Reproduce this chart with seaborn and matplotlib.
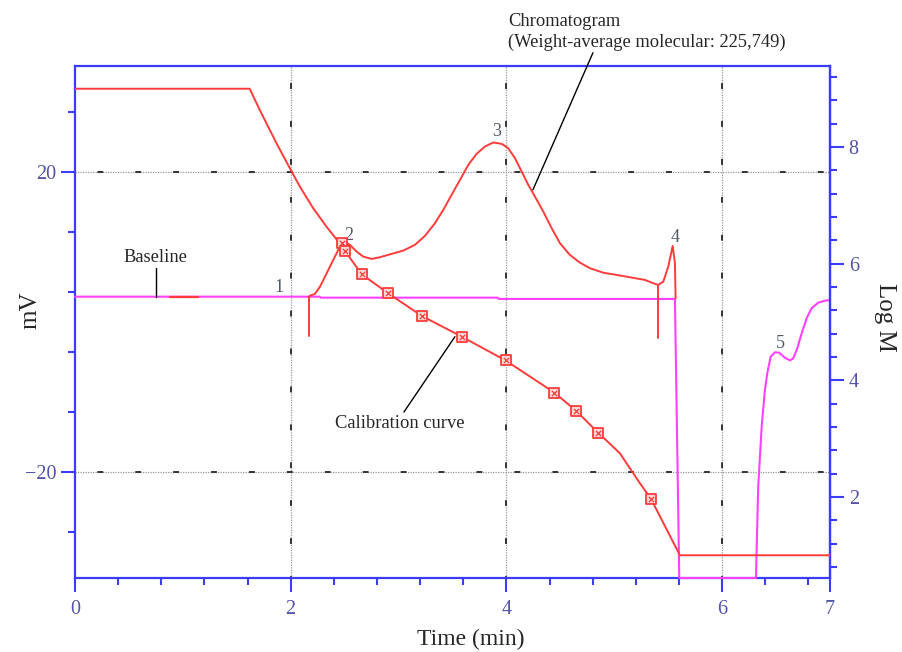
import numpy as np
import pandas as pd
import matplotlib
matplotlib.use("Agg")
import matplotlib.pyplot as plt
import seaborn as sns
from matplotlib.ticker import FixedLocator, MultipleLocator

# Chromatogram trace (mV, left axis)
chrom_t = [2.170, 2.179, 2.225, 2.272, 2.334, 2.395, 2.457, 2.503, 2.550, 2.612,
           2.673, 2.751, 2.828, 2.936, 3.044, 3.152, 3.245, 3.338, 3.415, 3.492,
           3.570, 3.647, 3.724, 3.801, 3.878, 3.956, 4.017, 4.079, 4.142, 4.203,
           4.265, 4.342, 4.420, 4.497, 4.589, 4.682, 4.775, 4.898, 5.022, 5.146,
           5.285, 5.362, 5.408, 5.455, 5.501, 5.542, 5.563, 5.569]
chrom_mv = [3.33, 3.51, 3.73, 4.71, 6.49, 8.27, 10.04, 10.71, 10.27, 9.37,
            8.71, 8.40, 8.63, 9.07, 9.51, 10.27, 11.47, 13.16, 14.93, 16.93,
            18.93, 20.93, 22.40, 23.37, 23.91, 23.73, 23.16, 21.83, 20.04, 18.27,
            16.71, 14.71, 12.49, 10.49, 8.93, 7.91, 7.16, 6.57, 6.27, 5.96,
            5.60, 5.16, 4.93, 5.37, 7.37, 10.13, 7.83, 3.16]

# Baseline / detector trace (mV, left axis)
base_t = [0.0, 2.27, 2.28, 3.92, 3.93, 5.563, 5.603, 6.314, 6.335, 6.367,
          6.382, 6.397, 6.419, 6.450, 6.490, 6.530, 6.583, 6.629, 6.660, 6.697,
          6.738, 6.784, 6.830, 6.891, 6.954, 7.0]
base_mv = [3.37, 3.37, 3.24, 3.24, 3.07, 3.07, -34.1, -34.1, -21.96, -13.96,
           -11.51, -9.07, -6.84, -4.63, -4.04, -4.09, -4.76, -5.11, -4.84, -3.51,
           -1.51, 0.49, 1.83, 2.57, 2.84, 2.93]

# Calibration curve (Log M, right axis)
calib_t = [0.0, 1.62, 1.715, 1.870, 2.009, 2.086, 2.209, 2.334, 2.441, 2.473,
           2.503, 2.658, 2.905, 3.220, 3.585, 3.993, 4.444, 4.645, 4.852, 5.052,
           5.24, 5.340, 5.609, 7.0]
calib_logm = [9.0, 9.0, 8.63, 8.06, 7.58, 7.32, 6.95, 6.63, 6.38, 6.33,
              6.22, 5.82, 5.49, 5.10, 4.75, 4.34, 3.79, 3.48, 3.10, 2.75,
              2.23, 1.97, 1.0, 1.0]

# Calibration standards
std_t = [2.473, 2.503, 2.658, 2.905, 3.220, 3.585, 3.993, 4.444, 4.645, 4.852, 5.340]
std_logm = [6.36, 6.22, 5.82, 5.49, 5.10, 4.75, 4.34, 3.79, 3.48, 3.10, 1.97]

# Peak numbers
peak_labels = ["1", "2", "3", "4", "5"]
peak_t = [1.891, 2.540, 3.913, 5.563, 6.536]
peak_mv = [4.6, 11.5, 25.4, 11.2, -2.9]

RED = "#ff3b3b"
MAGENTA = "#ff40ff"
BLUE = "#3c3cff"
TICK = "#5454a6"

sns.set_style("white")
plt.rcParams["font.family"] = ["Liberation Serif", "DejaVu Serif"]

fig = plt.figure(figsize=(9.02, 6.52), dpi=100)
ax = fig.add_axes([0.0831, 0.1135, 0.8370, 0.7853])
ax2 = ax.twinx()

ax.set_xlim(0, 7)
ax.set_ylim(-34.1, 34.1)
ax2.set_ylim(0.61, 9.39)

# grid: dotted gray with sparse dark dashes on top
for gx in [2, 4, 6]:
    ax.axvline(gx, color="#9a9a9a", lw=0.9, ls=(0, (1, 1)), zorder=1)
    ax.axvline(gx, color="#333333", lw=1.4, ls=(2, (3, 16.5)), zorder=1)
for gy in [20, -20]:
    ax.axhline(gy, color="#9a9a9a", lw=0.9, ls=(0, (1, 1)), zorder=1)
    ax.axhline(gy, color="#333333", lw=1.4, ls=(8, (3, 16.5)), zorder=1)

chrom = pd.DataFrame({"t": chrom_t, "mv": chrom_mv})
base = pd.DataFrame({"t": base_t, "mv": base_mv})
calib = pd.DataFrame({"t": calib_t, "logm": calib_logm})
stds = pd.DataFrame({"t": std_t, "logm": std_logm})

sns.lineplot(data=base, x="t", y="mv", ax=ax, color=MAGENTA, lw=1.5,
             sort=False, estimator=None, zorder=3, clip_on=False)
sns.lineplot(data=chrom, x="t", y="mv", ax=ax, color=RED, lw=1.4,
             sort=False, estimator=None, zorder=4)
# small red stub on the baseline and the integration markers
ax.plot([0.88, 1.14], [3.37, 3.37], color=RED, lw=1.6, zorder=4)
ax.plot([2.170, 2.170], [3.33, -1.87], color=RED, lw=1.4, zorder=4)
ax.plot([5.408, 5.408], [4.93, -2.13], color=RED, lw=1.4, zorder=4)

sns.lineplot(data=calib, x="t", y="logm", ax=ax2, color=RED, lw=1.4,
             sort=False, estimator=None, zorder=4)
sns.scatterplot(data=stds, x="t", y="logm", ax=ax2, marker="s", s=55,
                facecolor="#ffd6d6", edgecolor=RED, linewidth=1.3, zorder=5)
sns.scatterplot(data=stds, x="t", y="logm", ax=ax2, marker="x", s=14,
                color=RED, linewidth=0.9, zorder=6)

for lab, tx, ty in zip(peak_labels, peak_t, peak_mv):
    ax.text(tx, ty, lab, fontsize=13, color="#505868", ha="center", va="center", zorder=6)

# annotations with leader lines
ax.text(0.748, 8.53, "Baseline", fontsize=13.3, ha="center", va="center")
ax.plot([0.748, 0.748], [7.16, 3.37], color="black", lw=1.0, zorder=5)
ax.text(3.013, -13.47, "Calibration curve", fontsize=13.3, ha="center", va="center")
ax.plot([3.05, 3.523], [-12.0, -1.96], color="black", lw=1.0, zorder=5)
ax.plot([4.246, 4.803], [17.6, 35.87], color="black", lw=1.0, zorder=5, clip_on=False)
fig.text(508 / 902, 1 - 32 / 652, "Chromatogram\n(Weight-average molecular: 225,749)",
         fontsize=13.3, ha="left", va="center", linespacing=1.3)

# axes styling
ax.set_xticks([0, 2, 4, 6, 7])
ax.xaxis.set_minor_locator(FixedLocator([v for v in np.arange(0.4, 7.0, 0.4)]))
ax.yaxis.set_major_locator(FixedLocator([-20, 20]))
ax.yaxis.set_minor_locator(FixedLocator([-28, -12, -4, 4, 12, 28]))
ax2.yaxis.set_major_locator(FixedLocator([2, 4, 6, 8]))
ax2.yaxis.set_minor_locator(MultipleLocator(0.4))

for sp in ax.spines.values():
    sp.set_color(BLUE)
    sp.set_linewidth(1.6)
    sp.set_visible(True)
for name, sp in ax2.spines.items():
    sp.set_color(BLUE)
    sp.set_linewidth(1.6)
    sp.set_visible(name == "right")

for a in (ax, ax2):
    a.tick_params(which="major", length=10, width=1.5, color=BLUE,
                  labelcolor=TICK, labelsize=14.5, direction="out")
    a.tick_params(which="minor", length=5, width=1.5, color=BLUE, direction="out")
ax.tick_params(axis="x", which="both", bottom=True, pad=6)
ax.tick_params(axis="y", which="both", left=True)
ax2.tick_params(axis="y", which="both", right=True)

ax.set_xlabel("Time (min)", fontsize=17, va="center")
ax.xaxis.set_label_coords(0.5245, -0.121)
ax.set_ylabel("mV", fontsize=18, va="center")
ax.yaxis.set_label_coords(-0.0596, 0.523)
ax2.set_ylabel("Log M", fontsize=18, rotation=270, va="center", ha="center")
ax2.yaxis.set_label_coords(1.073, 0.508)

fig.savefig("out.png", dpi=100)
